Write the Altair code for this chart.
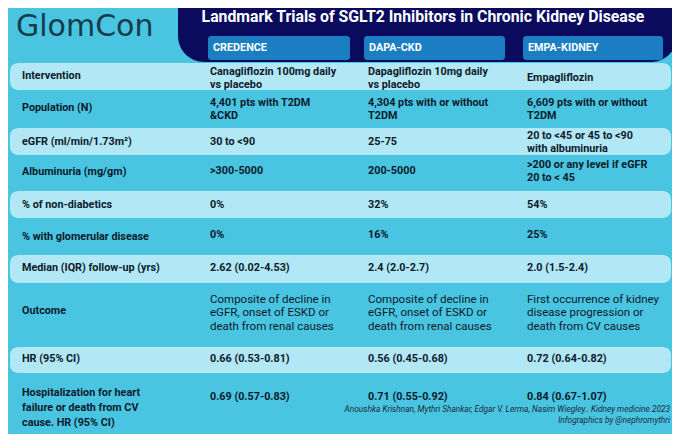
import altair as alt
import pandas as pd

# ---------------- data ----------------
title = "Landmark Trials of SGLT2 Inhibitors in Chronic Kidney Disease"
brand = "GlomCon"
trials = ["CREDENCE", "DAPA-CKD", "EMPA-KIDNEY"]
row_labels = [
    "Intervention",
    "Population (N)",
    "eGFR (ml/min/1.73m²)",
    "Albuminuria (mg/gm)",
    "% of non-diabetics",
    "% with glomerular disease",
    "Median (IQR) follow-up (yrs)",
    "Outcome",
    "HR (95% CI)",
    "Hospitalization for heart\nfailure or death from CV\ncause. HR (95% CI)",
]
credence = [
    "Canagliflozin 100mg daily\nvs placebo",
    "4,401 pts  with T2DM\n&CKD",
    "30 to <90",
    ">300-5000",
    "0%",
    "0%",
    "2.62 (0.02-4.53)",
    "Composite of decline in\neGFR, onset of ESKD or\ndeath from renal  causes",
    "0.66 (0.53-0.81)",
    "0.69 (0.57-0.83)",
]
dapa_ckd = [
    "Dapagliflozin 10mg daily\nvs placebo",
    "4,304 pts with or without\nT2DM",
    "25-75",
    "200-5000",
    "32%",
    "16%",
    "2.4 (2.0-2.7)",
    "Composite of decline in\neGFR, onset of ESKD or\ndeath from renal  causes",
    "0.56 (0.45-0.68)",
    "0.71 (0.55-0.92)",
]
empa_kidney = [
    "Empagliflozin",
    "6,609 pts with or without\nT2DM",
    "20 to <45 or 45 to <90\nwith albuminuria",
    ">200 or any level if eGFR\n20 to < 45",
    "54%",
    "25%",
    "2.0 (1.5-2.4)",
    "First occurrence of kidney\ndisease progression or\ndeath from CV causes",
    "0.72 (0.64-0.82)",
    "0.84 (0.67-1.07)",
]
footer = [
    "Anoushka Krishnan, Mythri Shankar, Edgar V. Lerma, Nasim Wiegley.. Kidney medicine.2023",
    "Infographics by @nephromythri",
]

# ---------------- layout (pixel grid of the 680x442 canvas) ----------------
W, H = 680, 442
label_x = 22
col_x = [210, 368, 527]
label_y = [76, 108, 142, 172, 205, 237, 268, 311, 359, 408]
value_y = [78, 109, 142, 171, 205, 235, 268, 313, 359, 397]
band_rows = [(63, 90), (128, 155), (191, 218), (255, 283), (347, 373)]
head_x = [(208, 350), (364, 505), (523, 663)]
LH_BOLD, LH_REG, LH_LABEL = 13, 13.5, 15

BG = "#49C5E1"
BAND = "#B2E7F5"
NAVY = "#0B0B5E"
HEADBLUE = "#1C7EC2"
INK = "#0D1A2B"

xs = alt.Scale(domain=[8, W - 8], nice=False, zero=False)
ys = alt.Scale(domain=[H - 8, 8], nice=False, zero=False)


def X(f="x"):
    return alt.X(f"{f}:Q", scale=xs, axis=None)


def Y(f="y"):
    return alt.Y(f"{f}:Q", scale=ys, axis=None)


def first_line(center, text, lh):
    n = text.count("\n") + 1
    return center - (n - 1) * lh / 2


# navy title box
navy_df = pd.DataFrame([{"x": 178, "x2": 677, "y": -30, "y2": 62}])
navy = alt.Chart(navy_df).mark_rect(color=NAVY, cornerRadius=26, clip=True).encode(
    x=X(), x2="x2:Q", y=Y(), y2="y2:Q"
)

# light bands
band_df = pd.DataFrame([{"x": 10, "x2": 671, "y": a, "y2": b} for a, b in band_rows])
bands = alt.Chart(band_df).mark_rect(color=BAND, cornerRadius=8).encode(
    x=X(), x2="x2:Q", y=Y(), y2="y2:Q"
)

# column headers
head_df = pd.DataFrame(
    [{"x": a, "x2": b, "y": 36, "y2": 60, "t": t, "tx": a + 5, "ty": 48}
     for (a, b), t in zip(head_x, trials)]
)
heads = alt.Chart(head_df).mark_rect(color=HEADBLUE, cornerRadius=3).encode(
    x=X(), x2="x2:Q", y=Y(), y2="y2:Q"
)
head_txt = alt.Chart(head_df).mark_text(
    align="left", baseline="middle", font="Roboto", fontWeight="bold", fontSize=10.8, color="white"
).encode(x=X("tx"), y=Y("ty"), text="t:N")

# title
title_df = pd.DataFrame([{"x": 423, "y": 17, "t": title}])
title_txt = alt.Chart(title_df).mark_text(
    align="center", baseline="middle", font="Roboto", fontWeight="bold", fontSize=15.8, color="white"
).encode(x=X(), y=Y(), text="t:N")

# brand
brand_df = pd.DataFrame([{"x": 16, "y": 27, "t": brand}])
brand_txt = alt.Chart(brand_df).mark_text(
    align="left", baseline="middle", font="DejaVu Sans", fontSize=30, color="#163B4B"
).encode(x=X(), y=Y(), text="t:N")

# row labels
lab_df = pd.DataFrame({
    "x": label_x,
    "y": [first_line(c, t, LH_LABEL) for c, t in zip(label_y, row_labels)],
    "t": row_labels,
})
lab_txt = alt.Chart(lab_df).mark_text(
    align="left", baseline="middle", font="Roboto", fontWeight="bold", fontSize=10.8,
    color=INK, lineBreak="\n", lineHeight=LH_LABEL
).encode(x=X(), y=Y(), text="t:N")

# values
recs = []
for ci, col in enumerate([credence, dapa_ckd, empa_kidney]):
    for ri, v in enumerate(col):
        outcome = ri == 7
        lh = LH_REG if outcome else LH_BOLD
        recs.append({"x": col_x[ci], "y": first_line(value_y[ri], v, lh), "t": v, "outcome": outcome})
val_df = pd.DataFrame(recs)
val_bold = alt.Chart(val_df[~val_df.outcome]).mark_text(
    align="left", baseline="middle", font="Roboto", fontWeight="bold", fontSize=10.8,
    color=INK, lineBreak="\n", lineHeight=LH_BOLD
).encode(x=X(), y=Y(), text="t:N")
val_reg = alt.Chart(val_df[val_df.outcome]).mark_text(
    align="left", baseline="middle", font="Roboto", fontSize=11.5,
    color=INK, lineBreak="\n", lineHeight=LH_REG
).encode(x=X(), y=Y(), text="t:N")

# footer
foot_df = pd.DataFrame({"x": [670, 670], "y": [410, 421], "t": footer})
foot_txt = alt.Chart(foot_df).mark_text(
    align="right", baseline="middle", font="Roboto", fontStyle="italic", fontSize=8.3, color="#1B2B3A"
).encode(x=X(), y=Y(), text="t:N")

chart = alt.layer(
    navy, bands, heads, head_txt, title_txt, brand_txt, lab_txt, val_bold, val_reg, foot_txt
).properties(
    width=W - 16, height=H - 16, background=BG, padding=0, autosize=alt.AutoSizeParams(type="none")
).configure_view(stroke=None)

chart.save("out.html", embed_options={"renderer": "svg", "actions": False})
